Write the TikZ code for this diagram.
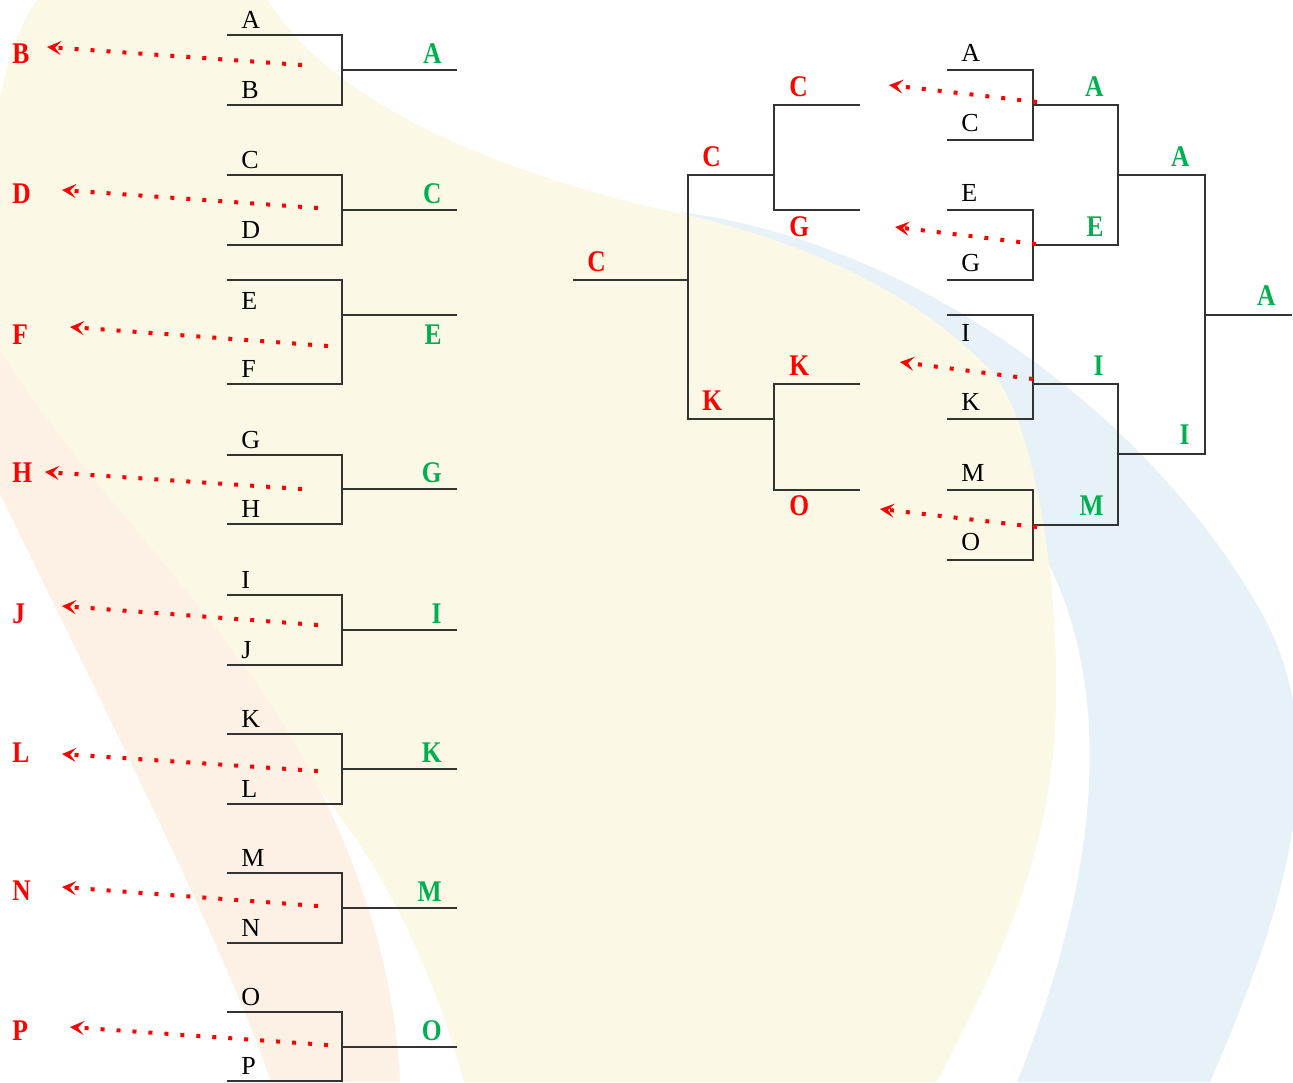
\documentclass[tikz,border=0pt]{standalone}
\usepackage{fontspec}
\setmainfont{Liberation Serif}
\newfontfamily\markfont{Liberation Serif}[FakeStretch=0.85]
\usepackage{tikz}
\usetikzlibrary{arrows.meta,positioning}
\definecolor{losered}{RGB}{255,0,0}
\definecolor{wingreen}{RGB}{0,176,80}
\definecolor{linegray}{RGB}{51,51,51}
\definecolor{bgyellow}{RGB}{251,248,230}
\definecolor{bgblue}{RGB}{230,241,248}
\definecolor{bgpeach}{RGB}{252,241,228}

\begin{document}
\begin{tikzpicture}[x=0.5pt,y=-0.5pt,
  player/.style={anchor=base west, inner sep=0pt, font=\fontsize{13}{15}\selectfont},
  winner/.style={anchor=base east, inner sep=0pt, text=wingreen, font=\markfont\bfseries\fontsize{15}{17}\selectfont},
  loser/.style={anchor=base west, inner sep=0pt, text=losered, font=\markfont\bfseries\fontsize{15}{17}\selectfont},
  bracket/.style={draw=linegray, line width=0.7pt},
  drop/.style={draw=losered, line width=2pt, dash pattern=on 2pt off 6pt, -{Stealth[length=7pt,width=7pt,inset=3pt]}}]
\useasboundingbox (0,0) rectangle (1293,1082);
% Background bands
\begin{scope}
\clip (0,0) rectangle (1293,1082);
\fill[bgblue] (680,212) .. controls (900,240) and (1140,400) .. (1260,610)
  .. controls (1340,750) and (1280,920) .. (1210,1082) -- (1017,1082)
  .. controls (1090,900) and (1125,700) .. (1040,547)
  .. controls (980,420) and (850,280) .. cycle;
\fill[bgyellow] (0,100) .. controls (8,55) and (20,25) .. (37,0) -- (268,0)
  .. controls (330,100) and (480,165) .. (650,207)
  .. controls (760,228) and (900,275) .. (990,370)
  .. controls (1030,412) and (1058,560) .. (1056,700)
  .. controls (1054,850) and (1000,960) .. (937,1082) -- (464,1082)
  .. controls (430,960) and (380,860) .. (307,774)
  .. controls (200,650) and (60,480) .. (0,400) -- cycle;
\fill[bgpeach] (0,350) .. controls (80,480) and (200,590) .. (280,720)
  .. controls (350,830) and (395,960) .. (400,1082) -- (271,1082)
  .. controls (230,960) and (120,740) .. (0,494) -- cycle;
\end{scope}
% Left column, first round
\draw[bracket] (227,35) -| (342,105) -- (227,105) (342,70) -- (457,70);
\draw[bracket] (227,175) -| (342,245) -- (227,245) (342,210) -- (457,210);
\draw[bracket] (227,280) -| (342,384) -- (227,384) (342,315) -- (457,315);
\draw[bracket] (227,455) -| (342,524) -- (227,524) (342,489) -- (457,489);
\draw[bracket] (227,595) -| (342,665) -- (227,665) (342,630) -- (457,630);
\draw[bracket] (227,734) -| (342,804) -- (227,804) (342,769) -- (457,769);
\draw[bracket] (227,873) -| (342,943) -- (227,943) (342,908) -- (457,908);
\draw[bracket] (227,1012) -| (342,1081) -- (227,1081) (342,1047) -- (457,1047);
\node[player] (A1) at (241,28) {A};
\node[player] (B1) at (241,98) {B};
\node[player] (C1) at (241,168) {C};
\node[player] (D1) at (241,238) {D};
\node[player] (E1) at (241,309) {E};
\node[player] (F1) at (241,377) {F};
\node[player] (G1) at (241,448) {G};
\node[player] (H1) at (241,517) {H};
\node[player] (I1) at (241,588) {I};
\node[player] (J1) at (241,658) {J};
\node[player] (K1) at (241,727) {K};
\node[player] (L1) at (241,797) {L};
\node[player] (M1) at (241,866) {M};
\node[player] (N1) at (241,936) {N};
\node[player] (O1) at (241,1005) {O};
\node[player] (P1) at (241,1074) {P};
\node[winner] (wA1) at (442,63) {A};
\node[winner] (wC1) at (442,203) {C};
\node[winner] (wE1) at (442,344) {E};
\node[winner] (wG1) at (442,482) {G};
\node[winner] (wI1) at (442,623) {I};
\node[winner] (wK1) at (442,762) {K};
\node[winner] (wM1) at (442,901) {M};
\node[winner] (wO1) at (442,1040) {O};
\node[loser] (lB) at (12,63) {B};
\node[loser] (lD) at (12,203) {D};
\node[loser] (lF) at (12,344) {F};
\node[loser] (lH) at (12,482) {H};
\node[loser] (lJ) at (12,623) {J};
\node[loser] (lL) at (12,762) {L};
\node[loser] (lN) at (12,900) {N};
\node[loser] (lP) at (12,1040) {P};
% Left column, losers dropping out
\coordinate (sB) at (302,65);  \coordinate (eB) at (47,47);
\coordinate (sD) at (318,208); \coordinate (eD) at (62,190);
\coordinate (sF) at (328,346); \coordinate (eF) at (70,327);
\coordinate (sH) at (302,489); \coordinate (eH) at (45,472);
\coordinate (sJ) at (318,625); \coordinate (eJ) at (62,606);
\coordinate (sL) at (318,771); \coordinate (eL) at (62,754);
\coordinate (sN) at (318,906); \coordinate (eN) at (62,887);
\coordinate (sP) at (328,1045); \coordinate (eP) at (70,1027);
\draw[drop] (sB)--(eB);
\draw[drop] (sD)--(eD);
\draw[drop] (sF)--(eF);
\draw[drop] (sH)--(eH);
\draw[drop] (sJ)--(eJ);
\draw[drop] (sL)--(eL);
\draw[drop] (sN)--(eN);
\draw[drop] (sP)--(eP);
% Right, winners bracket
\draw[bracket] (947,70) -| (1033,140) -- (947,140);
\draw[bracket] (947,210) -| (1033,280) -- (947,280);
\draw[bracket] (947,315) -| (1033,419) -- (947,419);
\draw[bracket] (947,490) -| (1033,560) -- (947,560);
\draw[bracket] (1033,105) -| (1118,245) -- (1033,245);
\draw[bracket] (1033,384) -| (1118,525) -- (1033,525);
\draw[bracket] (1118,175) -| (1205,454) -- (1118,454);
\draw[bracket] (1205,315) -- (1292,315);
\node[player] (A2) at (961,61) {A};
\node[player] (C2) at (961,131) {C};
\node[player] (E2) at (961,201) {E};
\node[player] (G2) at (961,271) {G};
\node[player] (I2) at (961,341) {I};
\node[player] (K2) at (961,410) {K};
\node[player] (M2) at (961,481) {M};
\node[player] (O2) at (961,550) {O};
\node[winner] (wA2) at (1104,96) {A};
\node[winner] (wE2) at (1104,236) {E};
\node[winner] (wI2) at (1104,375) {I};
\node[winner] (wM2) at (1104,515) {M};
\node[winner] (wA3) at (1190,166) {A};
\node[winner] (wI3) at (1190,444) {I};
\node[winner] (wA4) at (1276,305) {A};
% Right, losers of the second column
\coordinate (sC) at (1037,102); \coordinate (eC) at (889,85);
\coordinate (sG) at (1036,244); \coordinate (eG) at (895,227);
\coordinate (sK) at (1033,379); \coordinate (eK) at (900,362);
\coordinate (sO) at (1037,527); \coordinate (eO) at (880,509);
\draw[drop] (sC)--(eC);
\draw[drop] (sG)--(eG);
\draw[drop] (sK)--(eK);
\draw[drop] (sO)--(eO);
% Middle, losers bracket
\draw[bracket] (860,105) -| (774,210) -- (860,210);
\draw[bracket] (860,384) -| (774,490) -- (860,490);
\draw[bracket] (774,175) -| (688,419) -- (774,419);
\draw[bracket] (688,280) -- (573,280);
\node[loser] (rC1) at (789,96) {C};
\node[loser] (rG1) at (789,236) {G};
\node[loser] (rK1) at (789,375) {K};
\node[loser] (rO1) at (789,515) {O};
\node[loser] (rC2) at (702,166) {C};
\node[loser] (rK2) at (702,410) {K};
\node[loser] (rC3) at (587,271) {C};
\end{tikzpicture}
\end{document}
